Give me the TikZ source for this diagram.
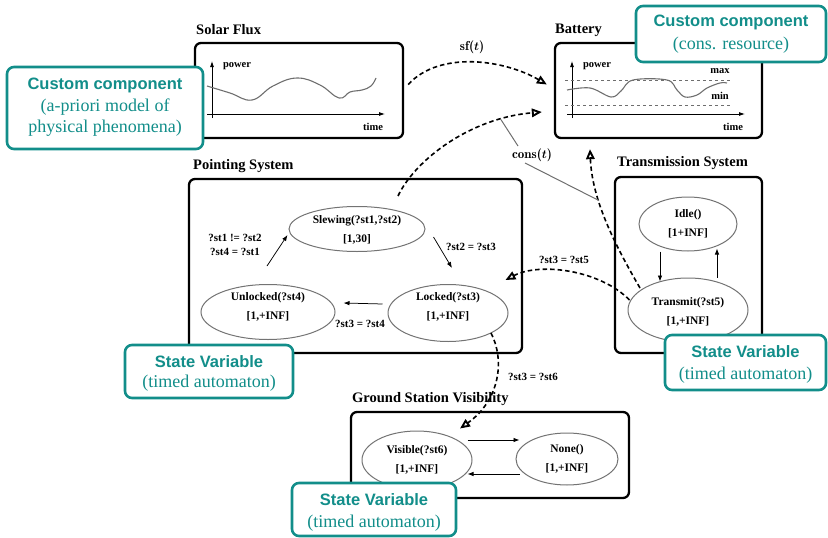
\documentclass[tikz,border=0pt]{standalone}
\usepackage{fontspec}
\setmainfont{Liberation Serif}
\newfontfamily\callsans{Liberation Sans}
\usetikzlibrary{arrows.meta,shapes.geometric,calc}
\definecolor{calloutteal}{RGB}{18,142,138}
\definecolor{curvegray}{RGB}{110,110,110}
\definecolor{ellgray}{RGB}{115,115,115}
\tikzset{
  panel/.style={draw=black, line width=2.3pt, rounded corners=6pt, inner sep=0pt},
  paneltitle/.style={font=\bfseries\fontsize{14.5}{16}\selectfont, anchor=west, inner sep=0pt},
  stateell/.style={ellipse, draw=ellgray, line width=1pt, inner sep=0pt},
  statetxt/.style={align=center, inner sep=0pt, font=\bfseries\fontsize{11.5}{19.5}\selectfont},
  guardlbl/.style={align=center, inner sep=1pt, font=\bfseries\fontsize{11}{14}\selectfont},
  axislbl/.style={inner sep=0pt, font=\bfseries\fontsize{10.5}{12}\selectfont},
  transarrow/.style={-{Latex[length=6pt,width=4.5pt]}, line width=0.75pt},
  axisline/.style={-{Latex[length=6pt,width=4pt]}, line width=0.8pt},
  linkarrow/.style={dash pattern=on 4.5pt off 3pt, line width=1.6pt, -{Triangle[open,length=10pt,width=8.5pt,line width=1.9pt]}},
  plotcurve/.style={draw=curvegray, line width=1.1pt},
  consline/.style={draw=curvegray, line width=1pt},
  callout/.style={draw=calloutteal, line width=2.6pt, rounded corners=7pt, fill=white, inner sep=0pt},
  calloutmain/.style={text=calloutteal, inner sep=0pt, font=\callsans\bfseries\fontsize{16.5}{19}\selectfont},
  calloutsub/.style={text=calloutteal, inner sep=0pt, font=\fontsize{18}{21}\selectfont},
  mathlbl/.style={inner sep=1pt, font=\fontfamily{lmr}\bfseries\fontsize{13}{15}\selectfont},
}
\begin{document}
\begin{tikzpicture}[x=1pt,y=-1pt]
\useasboundingbox (0,0) rectangle (828,538);

% ---------- panels ----------
\node[panel, minimum width=208pt, minimum height=95pt] (solar) at (299,90.5) {};
\node[paneltitle] (solart) at (196,30) {Solar Flux};
\node[panel, minimum width=207pt, minimum height=95pt] (bat) at (658.5,90.5) {};
\node[paneltitle] (batt) at (555,30) {Battery};
\node[panel, minimum width=333pt, minimum height=174pt] (point) at (355.5,266) {};
\node[paneltitle] (pointt) at (193,166) {Pointing System};
\node[panel, minimum width=147pt, minimum height=176pt] (tx) at (688.5,265) {};
\node[paneltitle] (txt) at (617,163) {Transmission System};
\node[panel, minimum width=278pt, minimum height=86pt] (gs) at (490,455) {};
\node[paneltitle] (gst) at (352,399) {Ground Station Visibility};

% ---------- solar flux plot ----------
\draw[axisline] (207,114) -- (385,114);
\draw[axisline] (212,118) -- (212,61);
\node[axislbl] (sfp) at (237,66) {power};
\node[axislbl] (sftime) at (373,127) {time};
\draw[plotcurve] plot[smooth, tension=0.7] coordinates {(207,86) (230,93) (252,100) (273,86) (297,78) (320,85) (339,98) (350,92) (362,90) (371,86) (376,78)};

% ---------- battery plot ----------
\draw[axisline] (567,114) -- (745,114);
\draw[axisline] (572,118) -- (572,61);
\draw[curvegray, dashed, line width=0.9pt] (565,80) -- (730,80);
\draw[curvegray, dashed, line width=0.9pt] (565,105) -- (730,105);
\node[axislbl] (bp) at (597,66) {power};
\node[axislbl] (bmax) at (720,71) {max};
\node[axislbl] (bmin) at (720,96) {min};
\node[axislbl] (btime) at (733,127) {time};
\draw[plotcurve] plot[smooth, tension=0.6] coordinates {(567,90) (590,88) (611,97) (621,91) (633,80) (667,80) (677,90) (685,97) (697,95) (707,88) (720,83) (727,83)};

% ---------- pointing system ----------
\node[stateell, minimum width=136pt, minimum height=45pt] (slew) at (357,229) {};
\node[statetxt] (slewt) at (357,230) {Slewing(?st1,?st2)\\{[1,30]}};
\node[stateell, minimum width=134pt, minimum height=55pt] (unl) at (268,312) {};
\node[statetxt] (unlt) at (268,307) {Unlocked(?st4)\\{[1,+INF]}};
\node[stateell, minimum width=120pt, minimum height=57pt] (lock) at (448,313) {};
\node[statetxt] (lockt) at (448,307) {Locked(?st3)\\{[1,+INF]}};

\draw[transarrow] ($(unl.north)+(-1,-18)$) -- ($(slew.west)+(-1,6)$);
\draw[transarrow] ($(slew.east)+(8,8)$) -- ($(lock.north)+(4,-16)$);
\draw[transarrow] ($(lock.west)+(-5,-9)$) -- ($(unl.east)+(8,-9)$);
\node[guardlbl] (g1) at (235,245) {?st1 != ?st2\\?st4 = ?st1};
\node[guardlbl] (g2) at (471,247) {?st2 = ?st3};
\node[guardlbl] (g3) at (360,324) {?st3 = ?st4};

% ---------- transmission system ----------
\node[stateell, minimum width=98pt, minimum height=54pt] (idle) at (688,224) {};
\node[statetxt] (idlet) at (688,224) {Idle()\\{[1+INF]}};
\node[stateell, minimum width=120pt, minimum height=64pt] (trans) at (688,310) {};
\node[statetxt] (transt) at (688,312) {Transmit(?st5)\\{[1,+INF]}};
\draw[transarrow] ($(idle.south)+(-28,0)$) -- ($(trans.north)+(-28,4)$);
\draw[transarrow] ($(trans.north)+(29,0)$) -- ($(idle.south)+(29,-3)$);

% ---------- ground station ----------
\node[stateell, minimum width=110pt, minimum height=58pt] (vis) at (417,460) {};
\node[statetxt] (vist) at (417,460) {Visible(?st6)\\{[1,+INF]}};
\node[stateell, minimum width=102pt, minimum height=52pt] (none) at (567,459) {};
\node[statetxt] (nonet) at (567,459) {None()\\{[1,+INF]}};
\draw[transarrow] ($(vis.east)+(-5,-20)$) -- ($(none.west)+(4,-19)$);
\draw[transarrow] ($(none.west)+(4,15)$) -- ($(vis.east)+(-5,14)$);

% ---------- dashed links ----------
\draw[linkarrow] ($(solar.east)+(4,-6)$) .. controls (440,50) and (505,60) .. ($(bat.west)+(-7,-6)$);
\node[mathlbl] (sf) at (472,47) {sf({\boldmath$t$})};

\draw[linkarrow] ($(slew.north)+(41,-10)$) .. controls (415,160) and (470,118) .. ($(bat.west)+(-12,21.5)$) coordinate[pos=0.8] (cs);
\draw[linkarrow] ($(trans.center)+(-48,-22)$) .. controls (615,245) and (592,200) .. ($(bat.south)+(-68.5,10)$) coordinate[pos=0.65] (ct);

\node[mathlbl] (cons) at (532,155) {cons({\boldmath$t$})};
\draw[consline] (cs) -- ($(cons.center)+(-14,-9)$);
\draw[consline] ($(cons.center)+(-7,8)$) -- (ct);

\draw[linkarrow] ($(trans.west)+(2,-10)$) .. controls (600,270) and (540,262) .. ($(lock.east)+(-3,-33)$);
\node[guardlbl] (g5) at (564,260) {?st3 = ?st5};

\draw[linkarrow] ($(lock.center)+(43,20)$) .. controls (505,360) and (500,400) .. ($(vis.north)+(43,-2)$);
\node[guardlbl] (g6) at (533,377) {?st3 = ?st6};

% ---------- callouts ----------
\node[callout, minimum width=190pt, minimum height=56pt] (c1) at (731,34) {};
\node[calloutmain] (c1a) at ($(c1.center)+(0,-12)$) {Custom component};
\node[calloutsub] (c1b) at ($(c1.center)+(0,11)$) {(cons. resource)};

\node[callout, minimum width=196pt, minimum height=82pt] (c2) at (105,108) {};
\node[calloutmain] (c2a) at ($(c2.center)+(0,-23)$) {Custom component};
\node[calloutsub] (c2b) at ($(c2.center)+(0,-1)$) {(a-priori model of};
\node[calloutsub] (c2c) at ($(c2.center)+(0,20)$) {physical phenomena)};

\node[callout, minimum width=168pt, minimum height=53pt] (c3) at (209,371.5) {};
\node[calloutmain] (c3a) at ($(c3.center)+(0,-9.5)$) {State Variable};
\node[calloutsub] (c3b) at ($(c3.center)+(0,11.5)$) {(timed automaton)};

\node[callout, minimum width=161pt, minimum height=55pt] (c4) at (745.5,362.5) {};
\node[calloutmain] (c4a) at ($(c4.center)+(0,-10.5)$) {State Variable};
\node[calloutsub] (c4b) at ($(c4.center)+(0,12.5)$) {(timed automaton)};

\node[callout, minimum width=164pt, minimum height=53pt] (c5) at (374,509.5) {};
\node[calloutmain] (c5a) at ($(c5.center)+(0,-9.5)$) {State Variable};
\node[calloutsub] (c5b) at ($(c5.center)+(0,13.5)$) {(timed automaton)};
\end{tikzpicture}
\end{document}
